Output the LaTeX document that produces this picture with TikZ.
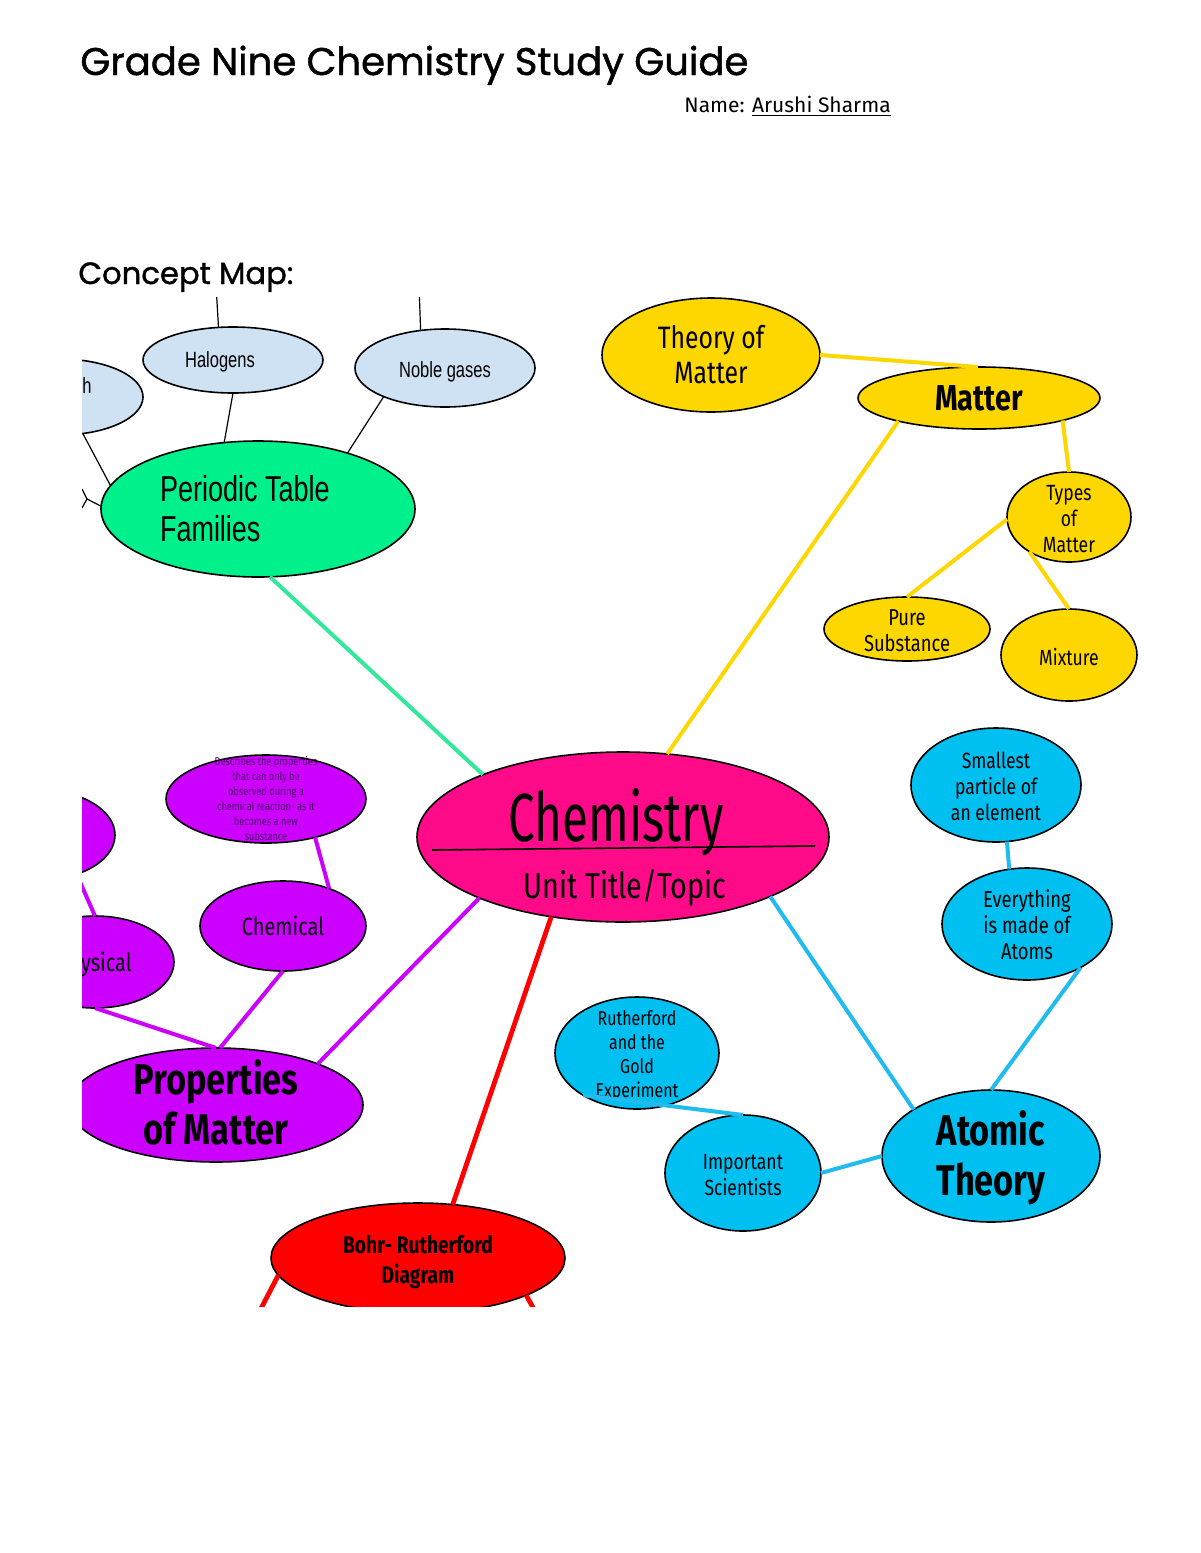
\documentclass[tikz,border=0pt]{standalone}
\usepackage{fontspec}
\setmainfont{Fira Sans}
\newfontfamily\mapf[FakeStretch=0.8]{Fira Sans}
\newfontfamily\chemf[FakeStretch=0.7]{Fira Sans}
\newfontfamily\arf[FakeStretch=0.75]{Liberation Sans}
\newfontfamily\titf[FakeBold=1.2]{Poppins}
\newfontfamily\namef{Fira Sans}
\usetikzlibrary{shapes.geometric}
\definecolor{lblue}{HTML}{CFE2F3}
\definecolor{pgreen}{HTML}{00F08C}
\definecolor{lgreen}{HTML}{33E89A}
\definecolor{myyel}{HTML}{FFD700}
\definecolor{mypink}{HTML}{FF0A88}
\definecolor{mypurp}{HTML}{CC00FF}
\definecolor{mycyan}{HTML}{00C0F2}
\definecolor{lcyan}{HTML}{22BBEE}
\definecolor{myred}{HTML}{FF0000}
\definecolor{dpurp}{HTML}{4A0060}
% zero-size text block: #1 alignment (c/l), #2 x shift, #3 y shift (up), #4 lines
\newcommand\zt[4]{\rlap{\kern#2\raisebox{\dimexpr(\depth-\height)/2+#3-2pt\relax}[0pt][0pt]{\makebox[0pt][#1]{\begin{tabular}{@{}#1@{}}#4\end{tabular}}}}}
\tikzset{
  ell/.style={ellipse, draw=black, line width=0.8pt, inner sep=0pt, outer sep=0pt},
  thinc/.style={draw=black, line width=0.6pt},
  yline/.style={draw=myyel, line width=2pt},
  gline/.style={draw=lgreen, line width=2pt},
  pline/.style={draw=mypurp, line width=2pt},
  rline/.style={draw=myred, line width=2.4pt},
  cline/.style={draw=lcyan, line width=2pt},
}
\begin{document}
\begin{tikzpicture}[x=0.5pt,y=-0.5pt]
\useasboundingbox (0,0) rectangle (1200,1553);
\fill[white] (0,0) rectangle (1200,1553);

% header
\node[anchor=base west, inner sep=0pt] (title) at (80,75)
  {\resizebox{334pt}{!}{\titf Grade Nine Chemistry Study Guide}};
\node[anchor=base west, inner sep=0pt, font=\namef\fontsize{10.5}{13}\selectfont] (name) at (684,112)
  {Name: \underline{Arushi Sharma}};
\node[anchor=base west, inner sep=0pt] (cmap) at (78,284)
  {\resizebox{107.5pt}{!}{\titf Concept Map:}};

\begin{scope}
\clip (82,297) rectangle (1200,1306);

% ---- periodic table cluster
\node[ell, fill=lblue, minimum width=83pt, minimum height=38pt] (lft) at (60,397) {};
\node[anchor=base east, inner sep=0pt, font=\arf\fontsize{11}{13}\selectfont] (lfth) at (92,393) {h};
\node[ell, fill=lblue, minimum width=90pt, minimum height=33pt,
      font=\arf\fontsize{11}{13}\selectfont] (hal) at (233,360) {\zt{c}{-6.5pt}{1pt}{Halogens}};
\node[ell, fill=lblue, minimum width=90pt, minimum height=39pt,
      font=\arf\fontsize{11}{13}\selectfont] (nob) at (445,368) {\zt{c}{0pt}{0pt}{Noble gases}};
\node[ell, fill=pgreen, minimum width=157pt, minimum height=68pt,
      font=\arf\fontsize{18}{20}\selectfont] (per) at (258,509) {\zt{l}{-49pt}{0pt}{Periodic Table\\Families}};

\coordinate (halup) at (216,285);
\coordinate (nobup) at (419,285);
\coordinate (fk1) at (82,489);
\coordinate (fk0) at (87,499);
\coordinate (fk2) at (82,508);
\draw[thinc] (halup) -- (hal.114.4);
\draw[thinc] (nobup) -- (nob.123.3);
\draw[thinc] (hal.-90) -- (per.117.7);
\draw[thinc] (nob.205.1) -- (per.32.9);
\draw[thinc] (lft.-58.8) -- (per.171.3);
\draw[thinc] (fk1) -- (fk0) -- (fk2);
\draw[thinc] (fk0) -- (per.179);

% ---- matter cluster
\node[ell, fill=myyel, minimum width=109pt, minimum height=57pt,
      font=\mapf\fontsize{15.5}{17.5}\selectfont] (tom) at (711,355) {\zt{c}{0pt}{0pt}{Theory of\\Matter}};
\node[ell, fill=myyel, minimum width=121pt, minimum height=31pt,
      font=\mapf\bfseries\fontsize{18}{20}\selectfont] (mat) at (979,398) {\zt{c}{0pt}{0pt}{Matter}};
\node[ell, fill=myyel, minimum width=62pt, minimum height=45pt,
      font=\mapf\fontsize{11}{13}\selectfont] (typ) at (1069,517) {\zt{c}{0pt}{0pt}{Types\\of\\Matter}};
\node[ell, fill=myyel, minimum width=83pt, minimum height=32pt,
      font=\mapf\fontsize{11.5}{13}\selectfont] (pure) at (907,629) {\zt{c}{0pt}{0pt}{Pure\\Substance}};
\node[ell, fill=myyel, minimum width=68pt, minimum height=46pt,
      font=\mapf\fontsize{11}{13}\selectfont] (mix) at (1069,655) {\zt{c}{0pt}{-0.5pt}{Mixture}};

% ---- centre
\node[ell, fill=mypink, minimum width=206pt, minimum height=85pt, font=\chemf] (chem) at (623,837)
  {\zt{c}{-3.5pt}{9.5pt}{\fontsize{34}{40}\selectfont Chemistry}\zt{c}{1pt}{-23.5pt}{\mapf\fontsize{18}{22}\selectfont Unit Title/Topic}};
\draw[line width=0.8pt] ([shift={(-191,13)}]chem.center) -- ([shift={(192,9)}]chem.center);

% ---- properties cluster
\node[ell, fill=mypurp, minimum width=100pt, minimum height=44pt,
      font=\mapf\fontsize{5.75}{7.5}\selectfont\color{dpurp}] (des) at (266,799)
  {\zt{c}{0pt}{1.5pt}{Describes the properties\\that can only be\\observed during a\\chemical reaction- as it\\becomes a new\\substance}};
\node[ell, fill=mypurp, minimum width=83pt, minimum height=45pt,
      font=\mapf\fontsize{12.5}{14}\selectfont] (chm) at (283,926) {\zt{c}{0pt}{0pt}{Chemical}};
\node[ell, fill=mypurp, minimum width=75pt, minimum height=45pt] (lp) at (40,835) {};
\node[ell, fill=mypurp, minimum width=79pt, minimum height=46pt,
      font=\mapf\fontsize{12.5}{14}\selectfont] (phy) at (95,962) {\zt{c}{0pt}{0pt}{Physical}};
\node[ell, fill=mypurp, minimum width=147pt, minimum height=57pt,
      font=\mapf\bfseries\fontsize{21.5}{25}\selectfont] (prop) at (216,1105) {\zt{c}{0pt}{0pt}{Properties\\of Matter}};

% ---- bohr
\node[ell, fill=myred, minimum width=147pt, minimum height=55pt,
      font=\mapf\bfseries\fontsize{12}{15}\selectfont] (bohr) at (418,1258) {\zt{c}{0pt}{0pt}{Bohr- Rutherford\\Diagram}};
\coordinate (bl) at (255,1320);
\coordinate (br) at (540,1320);

% ---- atomic theory cluster
\node[ell, fill=mycyan, minimum width=109pt, minimum height=66pt,
      font=\mapf\bfseries\fontsize{21.5}{25}\selectfont] (atom) at (991,1156) {\zt{c}{0pt}{0pt}{Atomic\\Theory}};
\node[ell, fill=mycyan, minimum width=85pt, minimum height=57pt,
      font=\mapf\fontsize{11}{13}\selectfont] (sm) at (996,785) {\zt{c}{0pt}{0pt}{Smallest\\particle of\\an element}};
\node[ell, fill=mycyan, minimum width=85pt, minimum height=56pt,
      font=\mapf\fontsize{11.5}{13}\selectfont] (ev) at (1027,924) {\zt{c}{0pt}{0pt}{Everything\\is made of\\Atoms}};
\node[ell, fill=mycyan, minimum width=82pt, minimum height=56pt,
      font=\mapf\fontsize{10}{12}\selectfont] (ruth) at (637,1053) {\zt{c}{0pt}{0pt}{Rutherford\\and the\\Gold\\Experiment}};
\node[ell, fill=mycyan, minimum width=78pt, minimum height=58pt,
      font=\mapf\fontsize{11}{13}\selectfont] (imp) at (743,1173) {\zt{c}{0pt}{0pt}{Important\\Scientists}};

% ---- connectors
\draw[gline] (per.-80.4) -- (chem.156.5);
\draw[yline] (tom.0) -- (mat.92);
\draw[yline] (mat.196.5) -- (chem.62.5);
\draw[yline] (mat.-15.4) -- (typ.90);
\draw[yline] (typ.182.7) -- (pure.90);
\draw[yline] (typ.-139.4) -- (mix.90);
\draw[pline] (des.-38.3) -- (chm.39.6);
\draw[pline] (lp.-47) -- (phy.90);
\draw[pline] (phy.-90) -- (prop.90);
\draw[pline] (chm.-90) -- (prop.86);
\draw[pline] (chem.203.5) -- (prop.22);
\draw[rline] (chem.-132.8) -- (bohr.57.3);
\draw[rline] (bohr.-173) -- (bl);
\draw[rline] (bohr.-19) -- (br);
\draw[cline] (chem.-22.5) -- (atom.149.3);
\draw[cline] (sm.-79) -- (ev.108.7);
\draw[cline] (ev.-39.7) -- (atom.90);
\draw[cline] (ruth.-142.3) -- (imp.90);
\draw[cline] (imp.0) -- (atom.180);
\end{scope}
\end{tikzpicture}
\end{document}
